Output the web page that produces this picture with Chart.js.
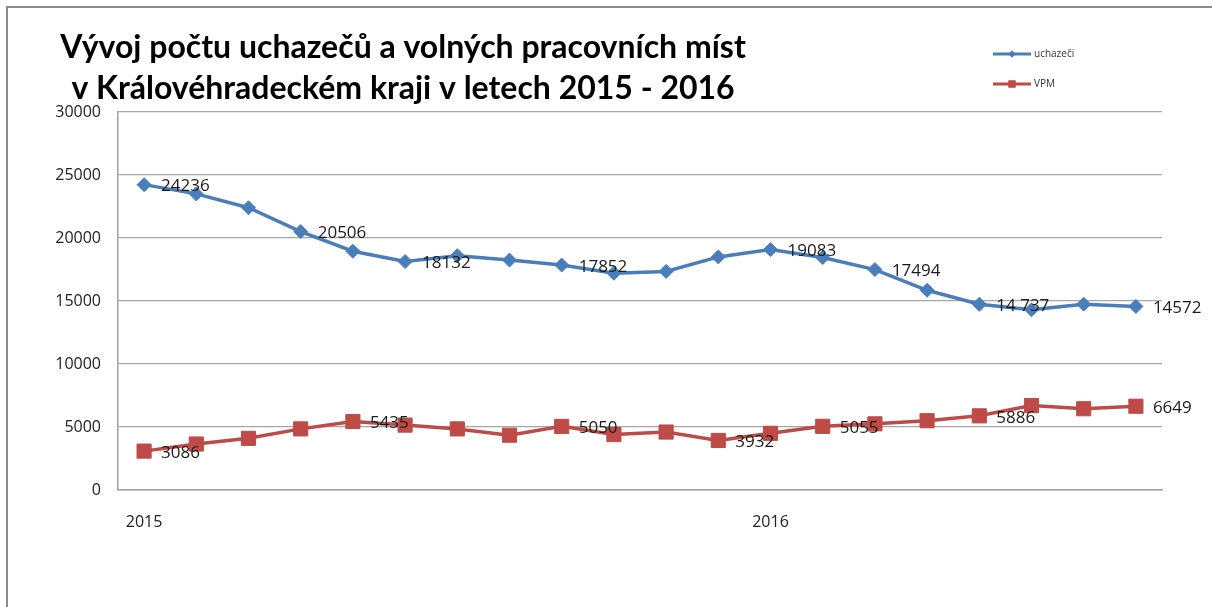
<!DOCTYPE html>
<html>
<head>
<meta charset="utf-8">
<script src="https://cdn.jsdelivr.net/npm/chart.js@4.4.0/dist/chart.umd.min.js"></script>
<style>
  body { margin: 0; background: #fff; overflow: hidden; }
  #frame { position: absolute; left: 6px; top: 6px; width: 1240px; height: 640px;
           border-top: 2px solid #8c8c8c; border-left: 2px solid #8c8c8c; }
  canvas { position: absolute; left: 0; top: 0; }
</style>
</head>
<body>
<div id="frame"></div>
<canvas id="chart" width="1212" height="607"></canvas>
<script>
// leden 2015 .. srpen 2016, popisky jen u ledna
const mesice = ["2015", "", "", "", "", "", "", "", "", "", "", "",
                "2016", "", "", "", "", "", "", ""];
const uchazeci = [24236, 23500, 22400, 20506, 18950, 18132, 18600, 18250, 17852, 17200,
                  17350, 18500, 19083, 18450, 17494, 15850, 14737, 14300, 14750, 14572];
const vpm = [3086, 3650, 4100, 4850, 5435, 5150, 4850, 4350, 5050, 4400,
             4600, 3932, 4500, 5055, 5250, 5500, 5886, 6700, 6450, 6649];
// popisky hodnot tak, jak jsou v grafu (null = bez popisku)
const uchazeciPopisky = ["24236", null, null, "20506", null, "18132", null, null, "17852", null,
                         null, null, "19083", null, "17494", null, "14 737", null, null, "14572"];
const vpmPopisky = ["3086", null, null, null, "5435", null, null, null, "5050", null,
                    null, "3932", null, "5055", null, null, "5886", null, null, "6649"];
const yTicks = [0, 5000, 10000, 15000, 20000, 25000, 30000];

const modra = "#4a7ebb";
const cervena = "#be4b48";

const popiskyPlugin = {
  id: "popisky",
  afterDatasetsDraw(chart) {
    const ctx = chart.ctx;
    ctx.save();
    ctx.font = "17px 'Open Sans'";
    ctx.fillStyle = "#1a1a1a";
    ctx.textAlign = "left";
    ctx.textBaseline = "middle";
    [uchazeciPopisky, vpmPopisky].forEach((pop, di) => {
      const meta = chart.getDatasetMeta(di);
      pop.forEach((t, i) => {
        if (t === null) return;
        const p = meta.data[i];
        ctx.fillText(t, p.x + 17, p.y + 2);
      });
    });
    ctx.restore();
  },
  afterDraw(chart) {
    const ctx = chart.ctx;
    ctx.save();
    // nadpis
    ctx.font = "bold 32px Lato";
    ctx.fillStyle = "#000";
    ctx.textAlign = "center";
    ctx.textBaseline = "alphabetic";
    ctx.fillText("Vývoj počtu uchazečů a volných pracovních míst", 403, 58);
    ctx.fillText("v Královéhradeckém kraji v letech 2015 - 2016", 403, 99);
    // legenda
    const polozky = [["uchazeči", modra, "rectRot", 3.5, 54], ["VPM", cervena, "rect", 5, 84]];
    polozky.forEach(([text, barva, styl, r, y]) => {
      ctx.strokeStyle = barva;
      ctx.lineWidth = 3;
      ctx.beginPath();
      ctx.moveTo(993, y);
      ctx.lineTo(1031, y);
      ctx.stroke();
      ctx.fillStyle = barva;
      Chart.helpers.drawPoint(ctx, { pointStyle: styl, radius: r, borderWidth: 0 }, 1012, y);
      ctx.fill();
      ctx.font = "10px 'Open Sans'";
      ctx.fillStyle = "#333";
      ctx.textAlign = "left";
      ctx.textBaseline = "middle";
      ctx.fillText(text, 1034, y);
    });
    ctx.restore();
  }
};

const ctx = document.getElementById("chart").getContext("2d");

const chart = new Chart(ctx, {
  type: "line",
  data: {
    labels: mesice,
    datasets: [
      {
        label: "uchazeči",
        data: uchazeci,
        borderColor: modra,
        backgroundColor: modra,
        borderWidth: 3.5,
        pointStyle: "rectRot",
        pointRadius: 7,
        pointBorderWidth: 1,
        tension: 0
      },
      {
        label: "VPM",
        data: vpm,
        borderColor: cervena,
        backgroundColor: cervena,
        borderWidth: 3.5,
        pointStyle: "rect",
        pointRadius: 10,
        pointBorderWidth: 1,
        tension: 0
      }
    ]
  },
  options: {
    responsive: false,
    animation: false,
    devicePixelRatio: 1,
    layout: { padding: { top: 112, right: 50, left: 0, bottom: 0 } },
    plugins: {
      legend: { display: false },
      title: { display: false },
      tooltip: { enabled: false }
    },
    scales: {
      x: {
        offset: true,
        grid: { display: false },
        border: { color: "#a0a0a0", width: 1.5 },
        ticks: {
          autoSkip: false,
          maxRotation: 0,
          padding: 15,
          color: "#222",
          font: { family: "'Open Sans'", size: 16 }
        },
        afterFit(scale) { scale.height = 117; }
      },
      y: {
        min: 0,
        max: 30000,
        afterBuildTicks(scale) { scale.ticks = yTicks.map(v => ({ value: v })); },
        grid: { color: "#a6a6a6", lineWidth: 1.2, drawTicks: false },
        border: { color: "#a0a0a0", width: 1.5 },
        ticks: {
          padding: 17,
          color: "#222",
          font: { family: "'Open Sans'", size: 16 },
          callback: (v) => String(v)
        },
        afterFit(scale) { scale.width = 118; }
      }
    }
  },
  plugins: [popiskyPlugin]
});
</script>
</body>
</html>
